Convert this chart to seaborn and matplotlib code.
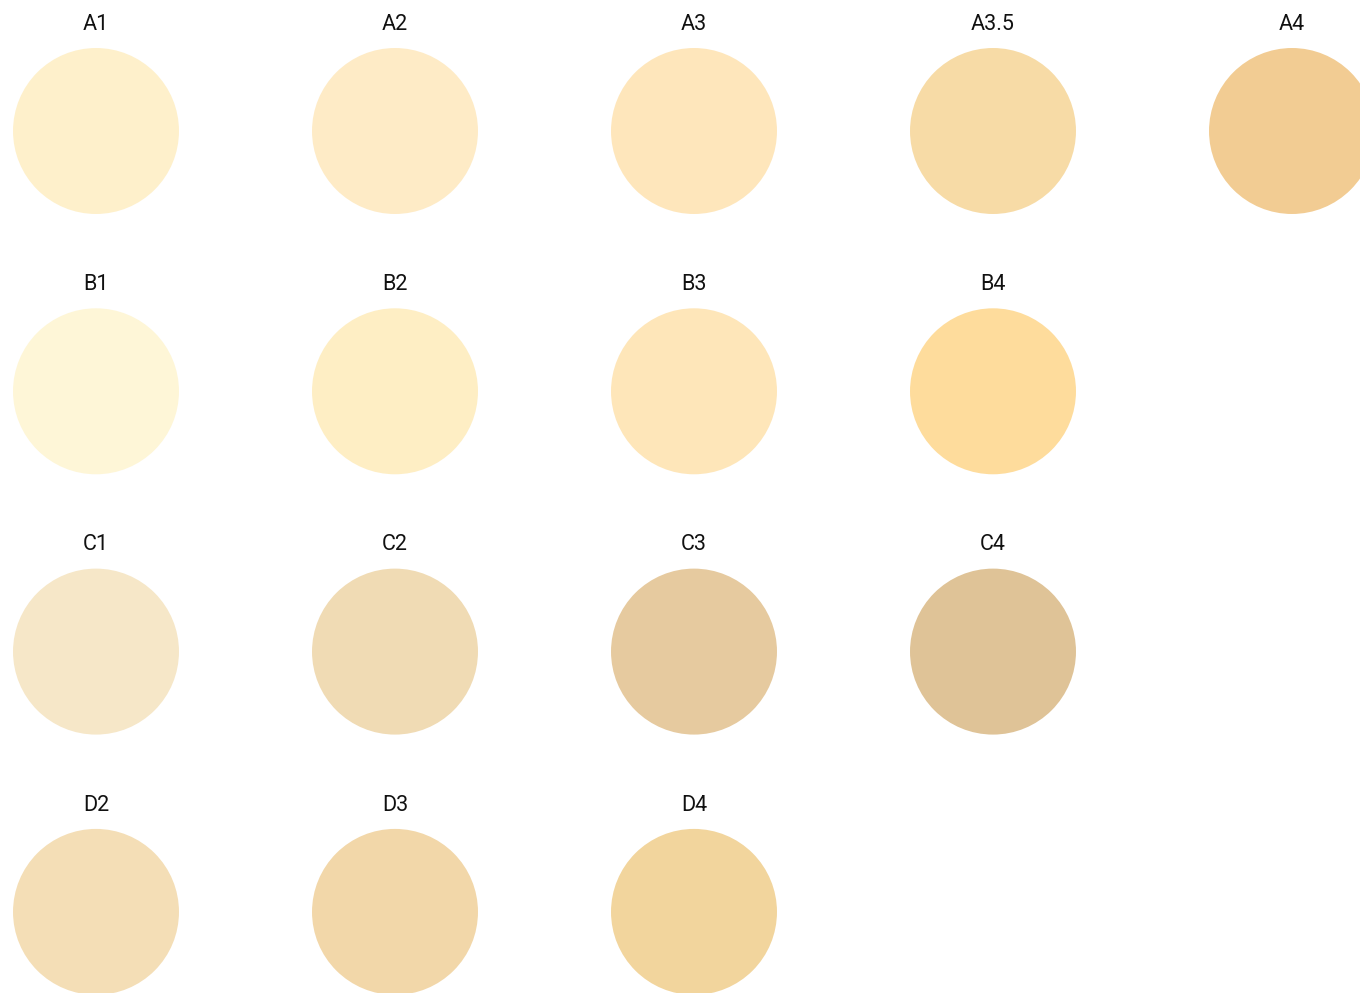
import matplotlib
matplotlib.use("Agg")
import matplotlib.pyplot as plt
import seaborn as sns
import pandas as pd

# shade guide data
shades = ['A1', 'A2', 'A3', 'A3.5', 'A4',
          'B1', 'B2', 'B3', 'B4',
          'C1', 'C2', 'C3', 'C4',
          'D2', 'D3', 'D4']
cols = [0, 1, 2, 3, 4,
        0, 1, 2, 3,
        0, 1, 2, 3,
        0, 1, 2]
rows = [0, 0, 0, 0, 0,
        1, 1, 1, 1,
        2, 2, 2, 2,
        3, 3, 3]
colors = ['#FEF0CB', '#FEEBC6', '#FEE6BB', '#F7DBA6', '#F2CC93',
          '#FEF6D7', '#FEEEC4', '#FEE6B9', '#FEDC9C',
          '#F6E7C8', '#F0DBB4', '#E6CA9F', '#DFC397',
          '#F4DEB6', '#F2D7A9', '#F2D59D']

df = pd.DataFrame({'shade': shades, 'col': cols, 'row': rows})

sns.set_style('white')
plt.rcParams['font.family'] = ['Roboto', 'DejaVu Sans']

fig = plt.figure(figsize=(13.6, 9.93), dpi=100)
ax = fig.add_axes([0, 0, 1, 1])

sns.scatterplot(data=df, x='col', y='row', hue='shade',
                palette=dict(zip(shades, colors)),
                s=119.5 ** 2, linewidth=0, legend=False, ax=ax)

for s, c, r in zip(shades, cols, rows):
    ax.text(c, r - 0.41, s, ha='center', va='center',
            fontsize=15.5, color='#111111')

ax.set_xlim(-96 / 299, (1360 - 96) / 299)
ax.set_ylim((993 - 131) / 260.3, -131 / 260.3)
ax.axis('off')

fig.savefig('out.png', dpi=100)
